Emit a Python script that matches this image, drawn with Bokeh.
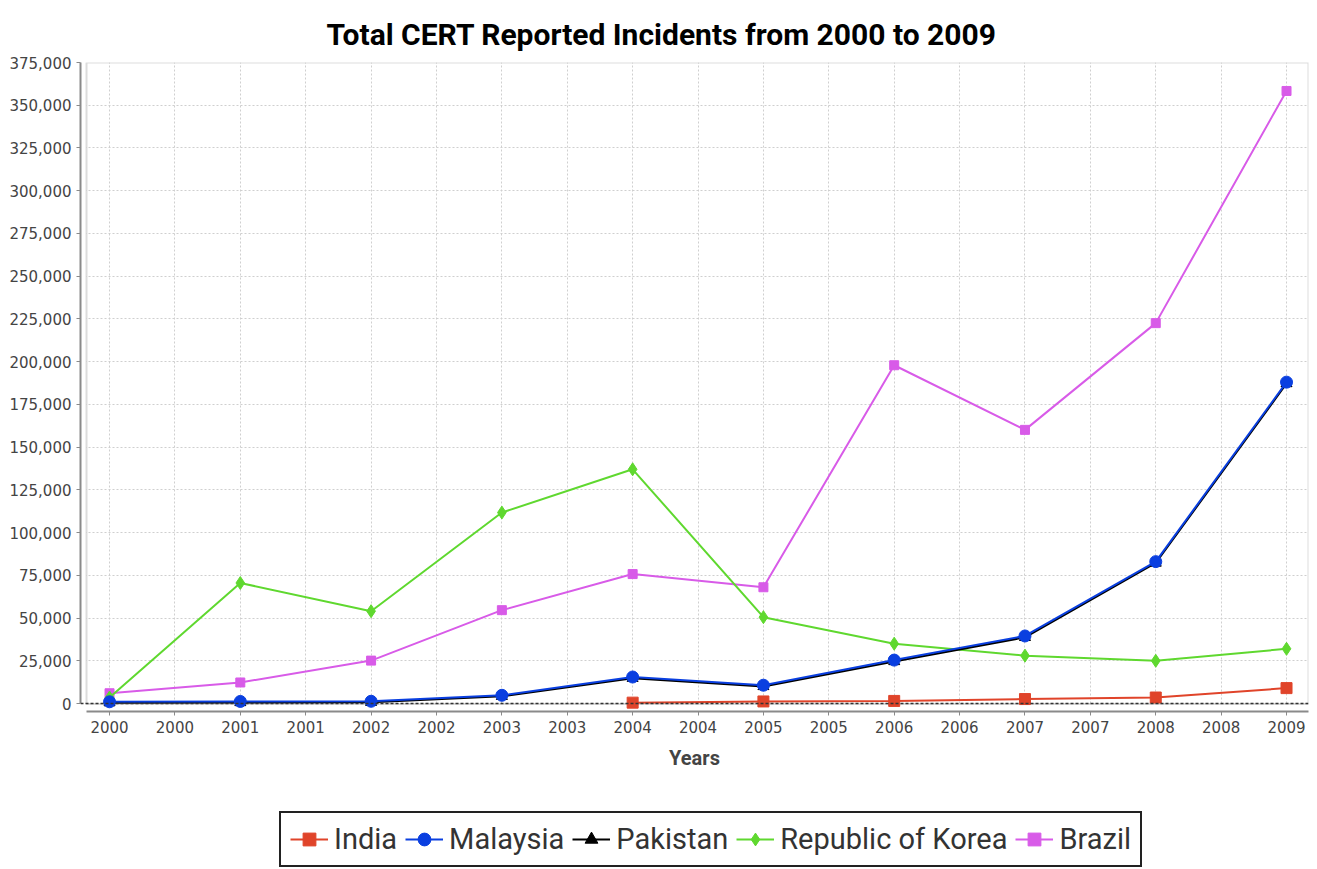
from bokeh.plotting import figure
from bokeh.layouts import column
from bokeh.models import (Range1d, FixedTicker, NumeralTickFormatter, Legend, LegendItem,
                          BoxAnnotation, Span, Title)
from bokeh.embed import file_html
from bokeh.resources import INLINE

# ---------------- data ----------------
years = [2000, 2001, 2002, 2003, 2004, 2005, 2006, 2007, 2008, 2009]
india_years = [2004, 2005, 2006, 2007, 2008, 2009]
india = [500, 1200, 1500, 2600, 3500, 9000]
malaysia = [1000, 1200, 1300, 4800, 15500, 10700, 25400, 39500, 83000, 188000]
pakistan = [500, 600, 700, 4200, 14800, 10000, 24600, 38700, 82200, 187200]
korea = [3500, 70500, 54000, 111700, 137000, 50500, 35000, 28000, 25000, 32000]
brazil = [5997, 12301, 25092, 54607, 75722, 68000, 197892, 160080, 222528, 358343]

series_names = ["India", "Malaysia", "Pakistan", "Republic of Korea", "Brazil"]
series_colors = ["#E0442A", "#0A3FE0", "#000000", "#5FD82F", "#D85BE8"]

x_ticks = [2000 + 0.5 * i for i in range(19)]
x_tick_labels = ["2000", "2000", "2001", "2001", "2002", "2002", "2003", "2003", "2004", "2004",
                 "2005", "2005", "2006", "2006", "2007", "2007", "2008", "2008", "2009"]
y_ticks = [0, 25000, 50000, 75000, 100000, 125000, 150000, 175000, 200000, 225000,
           250000, 275000, 300000, 325000, 350000, 375000]

title_text = "Total CERT Reported Incidents from 2000 to 2009"
x_label = "Years"

HEAD = "Roboto"
TICKFONT = "DejaVu Sans"

# ---------------- main figure ----------------
X0, X1 = 1999.778, 2009.168
DX0 = 1999.824
Y0, Y1 = -4680, 375000

p = figure(width=1317, height=800, output_backend="svg", toolbar_location=None,
           x_range=Range1d(X0, X1), y_range=Range1d(Y0, Y1),
           min_border_left=80, min_border_right=9, min_border_top=62, min_border_bottom=89)
p.background_fill_color = "white"
p.border_fill_color = "white"
p.outline_line_color = None

p.title = Title(text=title_text, align="left", offset=246, standoff=22,
                text_font=HEAD, text_font_style="bold", text_font_size="30px",
                text_color="#000000")

p.xgrid.ticker = FixedTicker(ticks=x_ticks)
p.ygrid.ticker = FixedTicker(ticks=y_ticks)
for g in (p.xgrid, p.ygrid):
    g.grid_line_color = "#cfcfcf"
    g.grid_line_dash = "2 2"
    g.grid_line_width = 1

# white gaps between data area and axes (cover grid)
p.add_layout(BoxAnnotation(left=X0, right=X1, bottom=Y0, top=0, fill_color="white",
                           fill_alpha=1, line_color=None, level="underlay"))
p.add_layout(BoxAnnotation(left=X0, right=DX0, bottom=Y0, top=Y1, fill_color="white",
                           fill_alpha=1, line_color=None, level="underlay"))
# data-area border
p.add_layout(BoxAnnotation(left=DX0, right=X1, bottom=-300, top=Y1, fill_color=None,
                           fill_alpha=0, line_color="#8a8a8a", line_width=2, level="underlay"))

xa = p.xaxis[0]
xa.ticker = FixedTicker(ticks=x_ticks)
xa.major_label_overrides = {t: lab for t, lab in zip(x_ticks, x_tick_labels)}
xa.bounds = (DX0, X1)
ya = p.yaxis[0]
ya.ticker = FixedTicker(ticks=y_ticks)
ya.formatter = NumeralTickFormatter(format="0,0")
ya.bounds = (0, Y1)
for a in (xa, ya):
    a.axis_line_color = "#8a8a8a"
    a.axis_line_width = 2
    a.major_tick_line_color = "#8a8a8a"
    a.major_tick_line_width = 1
    a.major_tick_out = 4
    a.major_tick_in = 0
    a.minor_tick_line_color = None
    a.major_label_text_font = TICKFONT
    a.major_label_text_font_size = "15px"
    a.major_label_text_color = "#444444"
xa.major_label_standoff = 5
ya.major_label_standoff = 5
xa.axis_label = x_label
xa.axis_label_text_font = HEAD
xa.axis_label_text_font_style = "bold"
xa.axis_label_text_font_size = "20px"
xa.axis_label_text_color = "#444444"
xa.axis_label_standoff = 10

p.add_layout(Span(location=0, dimension="width", line_color="#333333", line_width=1.5,
                  line_dash="3 2"))

xs_list = [india_years, years, years, years, years]
ys_list = [india, malaysia, pakistan, korea, brazil]
markers = ["square", "circle", "triangle", "diamond", "square"]
sizes = [11, 12, 11, 13, 9]

for i in reversed(range(5)):
    c = series_colors[i]
    p.line(xs_list[i], ys_list[i], line_color=c, line_width=2)
    p.scatter(xs_list[i], ys_list[i], marker=markers[i], size=sizes[i],
              fill_color=c, line_color=c)

# ---------------- legend strip ----------------
q = figure(width=1317, height=69, output_backend="svg", toolbar_location=None,
           x_range=Range1d(0, 1), y_range=Range1d(0, 1),
           x_axis_type=None, y_axis_type=None, min_border=0)
q.outline_line_color = None
q.xgrid.visible = False
q.ygrid.visible = False
q.background_fill_color = "white"
q.border_fill_color = "white"

items = []
for i in range(5):
    c = series_colors[i]
    lr = q.line([5, 6], [5, 6], line_color=c, line_width=2)
    mr = q.scatter([5], [5], marker=markers[i], size=sizes[i], fill_color=c, line_color=c)
    items.append(LegendItem(label=series_names[i], renderers=[lr, mr]))

legend = Legend(items=items, orientation="horizontal", location=(199, 2))
legend.label_text_font = HEAD
legend.label_text_font_size = "29px"
legend.label_text_color = "#333333"
legend.border_line_color = "#222222"
legend.border_line_alpha = 1
legend.border_line_width = 2
legend.background_fill_color = "white"
legend.background_fill_alpha = 1
legend.padding = 9
legend.spacing = 8
legend.margin = 0
legend.glyph_width = 38
legend.glyph_height = 32
legend.label_standoff = 6
q.add_layout(legend, "center")

open("out.html", "w").write(file_html(column(p, q, spacing=0), INLINE))
